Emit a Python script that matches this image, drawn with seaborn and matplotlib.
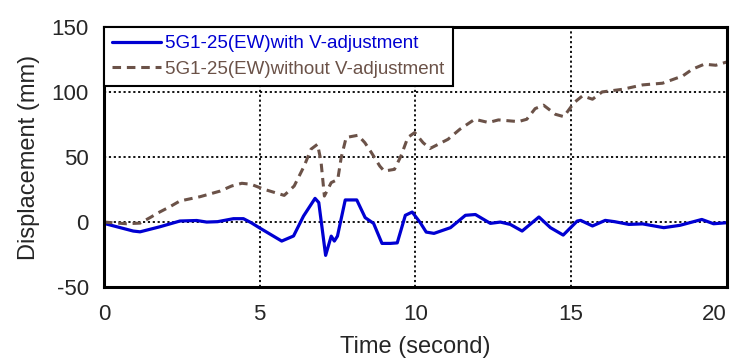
import pandas as pd
import matplotlib
matplotlib.use("Agg")
import matplotlib.pyplot as plt
import seaborn as sns

# Time (s) / displacement (mm)
t_with = [0.0, 0.94, 1.16, 1.8, 2.44, 2.98, 3.3, 3.65, 4.16, 4.48, 4.73, 5.0,
          5.71, 6.09, 6.41, 6.78, 6.9, 7.12, 7.3, 7.4, 7.5, 7.75, 8.12, 8.39,
          8.66, 8.93, 9.2, 9.42, 9.68, 9.9, 10.16, 10.35, 10.6, 11.13, 11.61,
          11.93, 12.41, 12.73, 13.05, 13.43, 13.97, 14.34, 14.75, 15.2, 15.31,
          15.69, 16.1, 16.4, 16.86, 17.3, 17.98, 18.5, 19.2, 19.58, 20.0]
d_with = [-1, -6.9, -7.5, -3.6, 0.8, 1.2, 0, 0.3, 2.6, 2.6, -0.5, -4.5,
          -14.6, -10.7, 4.6, 18.2, 15, -25.6, -10.8, -14.6, -10.8, 17, 17, 3.4,
          -1, -16.4, -16.4, -16, 5.2, 7.7, -0.5, -7.7, -8.7, -4.3, 5.2,
          5.8, -1, 0, -1.8, -6.9, 3.9, -4.3, -10, 0.8, 1.3,
          -3, 1.3, 0.3, -1.8, -1.4, -4.3, -2.5, 2, -1.3, -0.5]

t_without = [0.0, 0.73, 1.16, 1.48, 1.75, 2.12, 2.44, 3.09, 3.73, 4.1, 4.43,
             4.73, 5.14, 5.79, 6.11, 6.43, 6.65, 6.86, 6.97, 7.08, 7.3, 7.51,
             7.62, 7.78, 8.16, 8.38, 8.59, 8.86, 9.0, 9.33, 9.54, 9.76, 9.98,
             10.25, 10.47, 11.05, 11.43, 11.91, 12.35, 12.67, 13.31, 13.58,
             13.85, 14.12, 14.5, 14.77, 15.1, 15.37, 15.69, 16.0, 16.65, 17.3,
             17.94, 18.59, 18.9, 19.28, 19.65, 20.0]
d_without = [0, -1.3, -0.8, 3.4, 7.2, 11.8, 16.2, 19.5, 23.8, 27.7, 29.8,
             29, 25.2, 20.5, 27.7, 43, 56, 59.8, 47, 20, 30.3, 32.8,
             49.5, 65, 66.7, 61, 53.4, 43, 39.2, 40.5, 50.8, 65, 68.8,
             61, 56.5, 63.6, 71.3, 79, 76.5, 78.5, 77.2, 79,
             87.2, 89.8, 82.8, 81, 91.8, 97, 94.4, 100, 102, 105.4,
             106.7, 112.3, 117.5, 121.3, 120.5, 123]

label_with = "5G1-25(EW)with V-adjustment"
label_without = "5G1-25(EW)without V-adjustment"
blue = "#0000D2"
brown = "#6B5248"


def main():
    sns.set_style("white")
    plt.rcParams["font.family"] = ["Liberation Sans", "DejaVu Sans"]
    plt.rcParams["axes.unicode_minus"] = False

    df_with = pd.DataFrame({"t": t_with, "d": d_with})
    df_without = pd.DataFrame({"t": t_without, "d": d_without})

    fig = plt.figure(figsize=(7.37, 3.63), dpi=100)
    ax = fig.add_axes([0.141, 0.209, 0.845, 0.717])

    sns.lineplot(data=df_with, x="t", y="d", ax=ax, color=blue, lw=2.3,
                 label=label_with, sort=False)
    sns.lineplot(data=df_without, x="t", y="d", ax=ax, color=brown, lw=2.2,
                 label=label_without, sort=False)
    ax.lines[1].set_dashes([2.8, 1.9])

    ax.set_xlim(0, 20)
    ax.set_ylim(-50, 150)
    ax.set_xticks([0, 5, 10, 15, 20])
    ax.set_yticks([-50, 0, 50, 100, 150])
    ax.tick_params(length=0, labelsize=16)
    ax.tick_params(axis="x", pad=12)
    ax.tick_params(axis="y", pad=11)
    # keep the last x label inside the figure
    ax.get_xticklabels()[-1].set_horizontalalignment("right")
    ax.set_xlabel("Time (second)", fontsize=17, labelpad=8)
    ax.set_ylabel("Displacement (mm)", fontsize=17, labelpad=8)

    ax.grid(True, color="black", linestyle=(0, (1.2, 1.5)), lw=1.3)
    for s in ax.spines.values():
        s.set_color("black")
        s.set_linewidth(2.2)

    leg = ax.legend(loc="upper left", borderaxespad=0, fancybox=False,
                    fontsize=13.5, handlelength=2.6, handletextpad=0.2,
                    labelspacing=0.45, borderpad=0.45)
    leg.get_frame().set_edgecolor("black")
    leg.get_frame().set_linewidth(1.5)
    leg.get_frame().set_alpha(1)
    for txt, c in zip(leg.get_texts(), [blue, brown]):
        txt.set_color(c)

    fig.savefig("out.png", dpi=100)


if __name__ == "__main__":
    main()
